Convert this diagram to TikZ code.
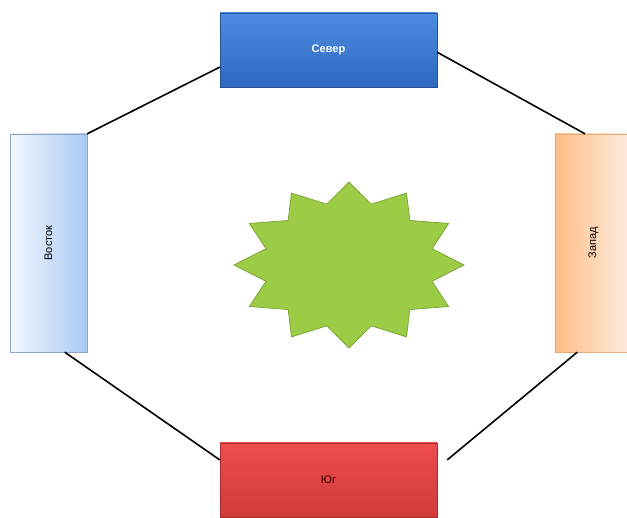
\documentclass[tikz,border=0pt]{standalone}
\usepackage{fontspec}
\usetikzlibrary{calc}
\setmainfont{Liberation Sans}
\definecolor{nblue1}{HTML}{4C8CE2}
\definecolor{nblue2}{HTML}{2F68BE}
\definecolor{lblue1}{HTML}{F2F7FE}
\definecolor{lblue2}{HTML}{A9C9F3}
\definecolor{lblueb}{HTML}{8EA6C4}
\definecolor{org1}{HTML}{FFBE86}
\definecolor{org2}{HTML}{FFEEE2}
\definecolor{red1}{HTML}{EC4C4C}
\definecolor{red2}{HTML}{D23A3A}
\definecolor{starg}{HTML}{9CCB45}
\definecolor{starb}{HTML}{7FA838}
\tikzset{
  boxbase/.style={inner sep=0pt, font=\fontsize{11}{12}\selectfont},
  hbox/.style={boxbase, minimum width=217pt, minimum height=74pt},
  vbox/.style={boxbase, minimum width=77pt, minimum height=218pt},
  link/.style={draw=black, line width=1.6pt}
}
\begin{document}
\begin{tikzpicture}[x=1pt,y=-1pt]
\useasboundingbox (0,0) rectangle (627,518);
\fill[white] (0,0) rectangle (627,518);
% boxes
\node[hbox, top color=nblue1, bottom color=nblue2, draw=nblue2!80!black, text=white, font=\fontsize{11}{12}\selectfont\bfseries] (north) at (328.5,50) {Север};
\node[hbox, top color=red1, bottom color=red2, draw=red2!80!black, text=black!80!red] (south) at (328.5,480) {Юг};
\node[vbox, left color=lblue1, right color=lblue2, draw=lblueb] (west) at (48.5,243) {};
\node[rotate=90, boxbase, text=black] (westt) at (west.center) {Восток};
\node[vbox, left color=org1, right color=org2, draw=org1!90!black] (east) at (593.5,243) {};
\node[rotate=90, boxbase, text=black] (eastt) at (east.center) {Запад};
% star
\fill[starg, draw=starb, line width=0.8pt]
  plot[samples at={0,...,23}] ({349+(mod(\x,2)==0 ? 115 : 86)*cos(90+15*\x)}, {265-(mod(\x,2)==0 ? 83 : 63)*sin(90+15*\x)}) -- cycle;
% connectors
\draw[link] (west.north east) -- ($(north.north west)!0.73!(north.south west)$);
\draw[link] ($(north.north east)!0.53!(north.south east)$) -- ($(east.north west)!0.39!(east.north east)$);
\draw[link] ($(east.south west)!0.29!(east.south east)$) -- ($(south.north east)!0.23!(south.south east)+(10,0)$);
\draw[link] ($(west.south west)!0.71!(west.south east)$) -- ($(south.north west)!0.23!(south.south west)$);
\end{tikzpicture}
\end{document}
